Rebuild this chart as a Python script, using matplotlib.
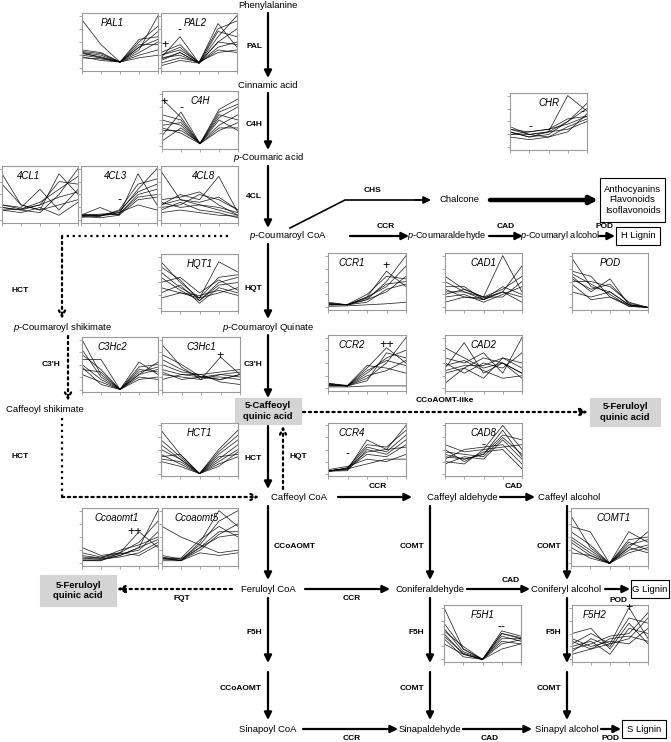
import matplotlib
matplotlib.use("Agg")
import matplotlib.pyplot as plt
from matplotlib.patches import Rectangle

plt.rcParams['font.family'] = ['Liberation Sans', 'DejaVu Sans']
plt.rcParams['mathtext.fontset'] = 'custom'
plt.rcParams['mathtext.it'] = 'Liberation Sans:italic'
plt.rcParams['mathtext.rm'] = 'Liberation Sans'

W, H = 671, 742

# expression profiles (5 time points, relative scale)
pal1 = [[0.92, 0.45, 0.12, 0.35, 1.0], [0.35, 0.3, 0.12, 0.5, 0.8], [0.3, 0.25, 0.12, 0.4, 0.55],
        [0.25, 0.2, 0.12, 0.45, 0.45], [0.28, 0.22, 0.12, 0.3, 0.5], [0.2, 0.18, 0.12, 0.25, 0.35],
        [0.3, 0.2, 0.12, 0.55, 0.6], [0.22, 0.15, 0.12, 0.2, 0.25], [0.32, 0.28, 0.12, 0.4, 0.7]]
pal2 = [[0.2, 0.6, 0.1, 0.5, 0.45], [0.3, 0.45, 0.1, 0.85, 0.4], [0.25, 0.35, 0.12, 0.75, 0.9],
        [0.15, 0.3, 0.1, 0.6, 1.0], [0.2, 0.25, 0.1, 0.4, 0.5], [0.1, 0.2, 0.12, 0.3, 0.35],
        [0.25, 0.4, 0.1, 0.35, 0.3], [0.18, 0.3, 0.1, 0.7, 0.6], [0.05, 0.15, 0.1, 0.5, 0.75]]
c4h = [[0.9, 0.55, 0.05, 0.35, 0.35], [0.2, 0.65, 0.05, 0.6, 0.5], [0.5, 0.4, 0.05, 0.7, 0.9],
       [0.4, 0.45, 0.05, 0.55, 0.75], [0.3, 0.3, 0.07, 0.4, 0.6], [0.1, 0.35, 0.05, 0.65, 0.8],
       [0.6, 0.5, 0.05, 0.3, 0.45], [0.35, 0.25, 0.05, 0.5, 0.3]]
cl1 = [[0.9, 0.3, 0.2, 0.9, 0.5], [0.25, 0.2, 0.15, 0.5, 1.0], [0.2, 0.22, 0.35, 0.6, 0.85],
       [0.7, 0.3, 0.2, 0.3, 0.4], [0.3, 0.25, 0.6, 0.2, 0.6], [0.25, 0.2, 0.3, 0.75, 0.7],
       [0.2, 0.15, 0.25, 0.1, 0.35], [0.3, 0.22, 0.3, 0.45, 0.55]]
cl3 = [[0.1, 0.25, 0.1, 0.9, 0.3], [0.08, 0.1, 0.15, 0.6, 1.0], [0.1, 0.08, 0.2, 0.7, 0.8],
       [0.12, 0.1, 0.12, 0.5, 0.6], [0.08, 0.05, 0.1, 0.4, 0.45], [0.1, 0.12, 0.15, 0.3, 0.2],
       [0.06, 0.08, 0.18, 0.55, 0.7], [0.1, 0.1, 0.12, 0.45, 0.5]]
cl8 = [[0.95, 0.4, 0.3, 0.2, 0.1], [0.3, 0.5, 0.4, 0.85, 0.15], [0.25, 0.3, 0.5, 0.4, 0.2],
       [0.4, 0.45, 0.55, 0.3, 0.1], [0.2, 0.35, 0.2, 0.15, 0.05], [0.35, 0.25, 0.3, 0.25, 0.15],
       [0.15, 0.2, 0.15, 0.1, 0.08], [0.3, 0.4, 0.35, 0.45, 0.2]]
hqt1 = [[0.9, 0.5, 0.2, 0.9, 0.7], [0.8, 0.55, 0.15, 0.5, 0.6], [0.7, 0.4, 0.2, 0.6, 0.65],
        [0.3, 0.45, 0.1, 0.4, 0.3], [0.2, 0.3, 0.25, 0.35, 0.25], [0.6, 0.35, 0.15, 0.45, 0.5],
        [0.5, 0.6, 0.3, 0.55, 0.35], [0.4, 0.3, 0.2, 0.3, 0.4]]
ccr1 = [[0.08, 0.05, 0.2, 0.7, 0.4], [0.05, 0.05, 0.15, 0.5, 1.0], [0.1, 0.05, 0.2, 0.4, 0.8],
        [0.05, 0.06, 0.25, 0.6, 0.55], [0.08, 0.05, 0.1, 0.35, 0.45], [0.05, 0.05, 0.15, 0.3, 0.6],
        [0.02, 0.03, 0.05, 0.07, 0.1], [0.06, 0.05, 0.18, 0.45, 0.5]]
cad1 = [[0.6, 0.35, 0.2, 1.0, 0.3], [0.4, 0.4, 0.15, 0.3, 0.8], [0.3, 0.3, 0.2, 0.35, 0.6],
        [0.2, 0.25, 0.1, 0.25, 0.4], [0.1, 0.2, 0.15, 0.3, 0.1], [0.25, 0.35, 0.2, 0.2, 0.5],
        [0.5, 0.3, 0.15, 0.4, 0.25], [0.35, 0.2, 0.18, 0.3, 0.2]]
pod = [[0.95, 0.4, 0.3, 0.05, 0.0], [0.7, 0.6, 0.2, 0.05, 0.0], [0.6, 0.3, 0.55, 0.05, 0.0],
       [0.5, 0.5, 0.4, 0.1, 0.0], [0.3, 0.2, 0.3, 0.05, 0.0], [0.65, 0.45, 0.25, 0.02, 0.0],
       [0.55, 0.35, 0.45, 0.08, 0.0], [0.45, 0.15, 0.2, 0.02, 0.0]]
c3hc2 = [[1.0, 0.3, 0.0, 0.3, 0.55], [0.8, 0.25, 0.0, 0.55, 0.3], [0.6, 0.6, 0.0, 0.35, 0.45],
         [0.5, 0.2, 0.0, 0.2, 0.25], [0.4, 0.35, 0.0, 0.45, 0.5], [0.3, 0.15, 0.0, 0.25, 0.2],
         [0.7, 0.4, 0.0, 0.4, 0.35], [0.45, 0.1, 0.0, 0.3, 0.4]]
c3hc1 = [[0.9, 0.45, 0.2, 0.65, 0.3], [0.7, 0.5, 0.25, 0.2, 0.3], [0.5, 0.35, 0.3, 0.35, 0.4],
         [0.4, 0.3, 0.25, 0.25, 0.2], [0.3, 0.25, 0.2, 0.3, 0.35], [0.2, 0.3, 0.3, 0.15, 0.1],
         [0.6, 0.4, 0.25, 0.3, 0.25], [0.35, 0.2, 0.25, 0.2, 0.3]]
ccr2 = [[0.1, 0.05, 0.4, 0.8, 0.5], [0.08, 0.05, 0.2, 0.5, 1.0], [0.06, 0.05, 0.3, 0.6, 0.75],
        [0.1, 0.06, 0.45, 0.4, 0.3], [0.05, 0.05, 0.15, 0.7, 0.6], [0.08, 0.05, 0.25, 0.35, 0.55],
        [0.03, 0.03, 0.05, 0.05, 0.05], [0.07, 0.05, 0.35, 0.55, 0.45]]
cad2 = [[0.8, 0.6, 0.4, 0.5, 0.2], [0.4, 0.9, 0.3, 0.5, 0.3], [0.6, 0.5, 0.7, 0.3, 1.0],
        [0.3, 0.4, 0.2, 0.6, 0.4], [0.5, 0.3, 0.5, 0.4, 0.7], [0.1, 0.4, 0.6, 0.5, 0.3],
        [0.45, 0.55, 0.35, 0.2, 0.25], [0.35, 0.45, 0.45, 0.6, 0.5]]
hct1 = [[0.9, 0.4, 0.0, 0.5, 0.9], [0.7, 0.35, 0.0, 0.3, 0.6], [0.5, 0.3, 0.0, 0.45, 0.8],
        [0.4, 0.2, 0.0, 0.25, 0.5], [0.3, 0.25, 0.0, 0.2, 0.35], [0.35, 0.4, 0.0, 0.35, 0.4],
        [0.25, 0.15, 0.0, 0.15, 0.45], [0.6, 0.3, 0.0, 0.4, 0.7]]
ccr4 = [[0.05, 0.08, 0.7, 0.5, 1.0], [0.06, 0.1, 0.55, 0.45, 0.8], [0.04, 0.12, 0.6, 0.55, 0.9],
        [0.05, 0.1, 0.4, 0.35, 0.6], [0.08, 0.15, 0.3, 0.25, 0.4], [0.05, 0.06, 0.5, 0.4, 0.7],
        [0.06, 0.1, 0.2, 0.3, 0.3], [0.05, 0.12, 0.45, 0.5, 0.55]]
cad8 = [[0.6, 0.45, 0.5, 1.0, 0.5], [0.4, 0.3, 0.4, 0.8, 0.7], [0.3, 0.5, 0.55, 0.6, 0.2],
        [0.2, 0.35, 0.3, 0.7, 0.3], [0.5, 0.25, 0.45, 0.5, 0.1], [0.45, 0.4, 0.35, 0.75, 0.4],
        [0.25, 0.2, 0.5, 0.55, 0.6], [0.35, 0.3, 0.4, 0.9, 0.35]]
ccoaomt1 = [[0.3, 0.15, 0.2, 0.6, 0.3], [0.1, 0.08, 0.15, 0.3, 1.0], [0.05, 0.05, 0.2, 0.4, 0.8],
            [0.15, 0.1, 0.25, 0.35, 0.5], [0.08, 0.08, 0.12, 0.2, 0.4], [0.12, 0.1, 0.18, 0.25, 0.6],
            [0.2, 0.12, 0.2, 0.15, 0.35], [0.05, 0.06, 0.15, 0.3, 0.45]]
ccoaomt5 = [[0.7, 0.5, 0.35, 0.2, 0.25], [0.1, 0.05, 0.4, 1.0, 0.7], [0.15, 0.08, 0.35, 0.8, 1.0],
            [0.05, 0.05, 0.3, 0.6, 0.6], [0.1, 0.1, 0.45, 0.7, 0.5], [0.08, 0.06, 0.25, 0.55, 0.75],
            [0.12, 0.05, 0.2, 0.15, 0.2], [0.1, 0.08, 0.3, 0.5, 0.55]]
comt1 = [[0.9, 0.3, 0.0, 0.3, 0.6], [0.7, 0.6, 0.0, 0.6, 0.4], [0.5, 0.25, 0.0, 0.2, 0.3],
         [0.4, 0.15, 0.0, 0.45, 0.5], [0.3, 0.1, 0.0, 0.3, 0.2], [0.6, 0.35, 0.0, 0.35, 0.45],
         [0.45, 0.2, 0.0, 0.25, 0.35], [0.2, 0.15, 0.0, 0.4, 0.25]]
f5h1 = [[1.0, 0.2, 0.0, 0.5, 0.4], [0.6, 0.15, 0.0, 0.45, 0.35], [0.55, 0.25, 0.0, 0.55, 0.45],
        [0.5, 0.1, 0.0, 0.4, 0.4], [0.4, 0.05, 0.0, 0.35, 0.3], [0.7, 0.2, 0.0, 0.5, 0.42],
        [0.3, 0.1, 0.0, 0.2, 0.3], [0.45, 0.12, 0.0, 0.3, 0.38]]
f5h2 = [[0.3, 0.5, 0.3, 1.0, 0.4], [0.2, 0.3, 0.45, 0.5, 0.9], [0.5, 0.6, 0.2, 0.7, 0.3],
        [0.1, 0.2, 0.3, 0.4, 0.8], [0.25, 0.35, 0.1, 0.6, 0.5], [0.4, 0.25, 0.35, 0.3, 0.6],
        [0.15, 0.4, 0.25, 0.8, 0.7], [0.35, 0.2, 0.4, 0.45, 0.35]]
chr_ = [[0.35, 0.25, 0.3, 1.0, 0.7], [0.3, 0.2, 0.25, 0.5, 0.85], [0.25, 0.3, 0.35, 0.45, 0.6],
        [0.2, 0.15, 0.2, 0.4, 0.55], [0.4, 0.25, 0.3, 0.35, 0.5], [0.3, 0.2, 0.3, 0.5, 0.75],
        [0.25, 0.25, 0.2, 0.3, 0.65], [0.35, 0.3, 0.35, 0.55, 0.6]]

# inset name, data, box in pixels (x0, y0, x1, y1), title x, marks [(x, y, text)]
insets = [
    ("PAL1", pal1, (82, 13, 158, 71), 0.4, []),
    ("PAL2", pal2, (161, 13, 237, 71), 0.45, [(0.2, 0.45, "+"), (1.0, 0.72, "-")]),
    ("C4H", c4h, (162, 91, 238, 149), 0.5, [(0.1, 0.85, "+"), (1.0, 0.72, "-")]),
    ("4CL1", cl1, (2, 166, 78, 223), 0.35, []),
    ("4CL3", cl3, (81, 166, 157, 223), 0.45, [(2.0, 0.4, "-")]),
    ("4CL8", cl8, (161, 166, 238, 223), 0.55, []),
    ("HQT1", hqt1, (161, 254, 238, 311), 0.5, []),
    ("CCR1", ccr1, (328, 253, 406, 310), 0.3, [(3.0, 0.8, "+")]),
    ("CAD1", cad1, (445, 253, 522, 310), 0.5, []),
    ("POD", pod, (572, 253, 648, 310), 0.5, []),
    ("C3Hc2", c3hc2, (82, 337, 158, 392), 0.4, []),
    ("C3Hc1", c3hc1, (162, 337, 240, 392), 0.5, [(3.0, 0.66, "+")]),
    ("CCR2", ccr2, (328, 335, 406, 391), 0.3, [(3.0, 0.85, "++")]),
    ("CAD2", cad2, (445, 335, 522, 391), 0.5, []),
    ("HCT1", hct1, (161, 423, 238, 476), 0.5, []),
    ("CCR4", ccr4, (328, 423, 406, 476), 0.3, [(1.0, 0.4, "-")]),
    ("CAD8", cad8, (445, 423, 522, 476), 0.5, [(2.0, 0.6, "-")]),
    ("Ccoaomt1", ccoaomt1, (82, 508, 158, 566), 0.45, [(2.8, 0.6, "++")]),
    ("Ccoaomt5", ccoaomt5, (162, 508, 238, 566), 0.45, []),
    ("COMT1", comt1, (571, 508, 648, 566), 0.55, []),
    ("F5H1", f5h1, (444, 605, 521, 662), 0.5, [(3.0, 0.62, "--")]),
    ("F5H2", f5h2, (572, 605, 648, 662), 0.3, [(3.0, 1.0, "+")]),
    ("CHR", chr_, (510, 93, 587, 150), 0.5, [(1.05, 0.4, "-"), (1.95, 0.33, "-"), (3.75, 0.68, "-")]),
]

fig = plt.figure(figsize=(W / 100, H / 100), dpi=100)
ax = fig.add_axes([0, 0, 1, 1])
ax.set_xlim(0, W)
ax.set_ylim(H, 0)
ax.axis('off')

FS = 6.8
P = r"$\it{p}$"


def txt(x, y, s, bold=False, ha='center', fs=FS):
    ax.text(x, y, s, ha=ha, va='center', fontsize=fs,
            fontweight='bold' if bold else 'normal')


def arrow(x0, y0, x1, y1, dotted=False, head='-|>', lw=1.6):
    ax.annotate('', xy=(x1, y1), xytext=(x0, y0),
                arrowprops=dict(arrowstyle=head, lw=lw, color='black',
                                linestyle=':' if dotted else '-',
                                mutation_scale=11, shrinkA=0, shrinkB=0))


def box(x0, y0, x1, y1, s, gray=False):
    ax.add_patch(Rectangle((x0, y0), x1 - x0, y1 - y0,
                           facecolor='#d4d4d4' if gray else 'white',
                           edgecolor='#d4d4d4' if gray else 'black', lw=0.8))
    ax.text((x0 + x1) / 2, (y0 + y1) / 2, s, ha='center', va='center',
            fontsize=FS, fontweight='bold' if gray else 'normal', linespacing=1.2)


# compounds
txt(268, 6, "Phenylalanine")
txt(268, 86, "Cinnamic acid")
txt(268, 158, P + "-Coumaric acid")
txt(288, 236, P + "-Coumaroyl CoA")
txt(447, 236, P + "-Coumaraldehyde", fs=6.6)
txt(560, 236, P + "-Coumaryl alcohol", fs=6.6)
txt(460, 200, "Chalcone")
txt(268, 327, P + "-Coumaroyl Quinate")
txt(62, 327, P + "-Coumaroyl shikimate")
txt(45, 410, "Caffeoyl shikimate")
txt(299, 497, "Caffeoyl CoA")
txt(462, 497, "Caffeyl aldehyde")
txt(569, 497, "Caffeyl alcohol")
txt(268, 589, "Feruloyl CoA")
txt(430, 589, "Coniferaldehyde")
txt(566, 589, "Coniferyl alcohol")
txt(268, 729, "Sinapoyl CoA")
txt(430, 729, "Sinapaldehyde")
txt(567, 729, "Sinapyl alcohol")

box(235, 398, 301, 424, "5-Caffeoyl\nquinic acid", gray=True)
box(590, 398, 660, 426, "5-Feruloyl\nquinic acid", gray=True)
box(40, 575, 116, 606, "5-Feruloyl\nquinic acid", gray=True)
box(616, 227, 660, 245, "H Lignin")
box(631, 580, 669, 598, "G Lignin")
box(622, 720, 666, 738, "S Lignin")
box(600, 178, 665, 222, "Anthocyanins\nFlavonoids\nIsoflavonoids")

# main vertical arrows
for x, y0, y1, lab, ly in [
        (268, 13, 78, "PAL", 46), (268, 93, 150, "C4H", 125), (268, 166, 228, "4CL", 196),
        (268, 244, 319, "HQT", 289), (268, 335, 398, "C3'H", 365), (268, 426, 489, "HCT", 458),
        (268, 598, 663, "F5H", 632), (268, 672, 720, "CCoAOMT", 688),
        (430, 506, 580, "COMT", 546), (430, 598, 663, "F5H", 632), (430, 672, 720, "COMT", 688),
        (567, 506, 580, "COMT", 546), (567, 598, 663, "F5H", 632), (567, 672, 720, "COMT", 688)]:
    arrow(x, y0, x, y1)
    txt(x - 6, ly, lab, bold=True, ha='right', fs=6)
arrow(268, 506, 268, 580)
txt(274, 546, "CCoAOMT", bold=True, ha='left', fs=6)

# horizontal arrows
for x0, x1, y, lab, lx, ly in [
        (350, 409, 236, "CCR", 386, 226), (489, 523, 236, "CAD", 506, 226),
        (599, 615, 236, "POD", 605, 226),
        (338, 412, 497, "CCR", 378, 487), (500, 535, 497, "CAD", 514, 487),
        (305, 390, 589, "CCR", 352, 599), (467, 530, 589, "CAD", 511, 580),
        (605, 630, 589, "POD", 619, 600),
        (303, 398, 729, "CCR", 352, 739), (463, 532, 729, "CAD", 490, 739),
        (601, 621, 729, "POD", 610, 739)]:
    arrow(x0, y, x1, y)
    txt(lx, ly, lab, bold=True, fs=6)

# chalcone branch
ax.plot([290, 345, 420], [228, 200, 200], color='black', lw=1.2)
arrow(415, 200, 431, 200, lw=1.2)
txt(372, 190, "CHS", bold=True, fs=6)
arrow(490, 200, 598, 200, lw=3.2)

# dotted routes
arrow(283, 489, 283, 426, dotted=True, head='->')
txt(289, 456, "HQT", bold=True, ha='left', fs=6)
arrow(303, 412, 588, 412, dotted=True)
txt(445, 401, "CCoAOMT-like", bold=True, fs=6)
arrow(232, 589, 117, 589, dotted=True)
txt(182, 599, "FQT", bold=True, fs=6)
ax.plot([228, 62], [236, 236], color='black', lw=1.6, ls=':')
arrow(62, 236, 62, 319, dotted=True, head='->')
txt(20, 290, "HCT", bold=True, fs=6)
arrow(68, 336, 68, 401, dotted=True, head='->')
txt(60, 365, "C3'H", bold=True, ha='right', fs=6)
ax.plot([62, 62], [418, 497], color='black', lw=1.6, ls=':')
arrow(62, 497, 259, 497, dotted=True, head='->')
txt(20, 456, "HCT", bold=True, fs=6)

# expression insets
for name, data, (x0, y0, x1, y1), tx, marks in insets:
    ia = fig.add_axes([x0 / W, 1 - y1 / H, (x1 - x0) / W, (y1 - y0) / H])
    for row in data:
        ia.plot(range(5), row, color='black', lw=0.55, alpha=0.85)
    ia.set_xlim(0, 4)
    ia.set_ylim(-0.05, 1.05)
    ia.set_xticks(range(5))
    ia.set_yticks([0, 0.25, 0.5, 0.75, 1.0])
    ia.tick_params(length=2, width=0.5, color='#888888', labelbottom=False, labelleft=False)
    for sp in ia.spines.values():
        sp.set_color('#999999')
        sp.set_linewidth(0.8)
    ia.text(tx, 0.82, name, transform=ia.transAxes, ha='center', va='center',
            fontsize=7, style='italic')
    for mx, my, m in marks:
        ia.text(mx, my, m, ha='center', va='center', fontsize=9)

fig.savefig("out.png", dpi=100)
